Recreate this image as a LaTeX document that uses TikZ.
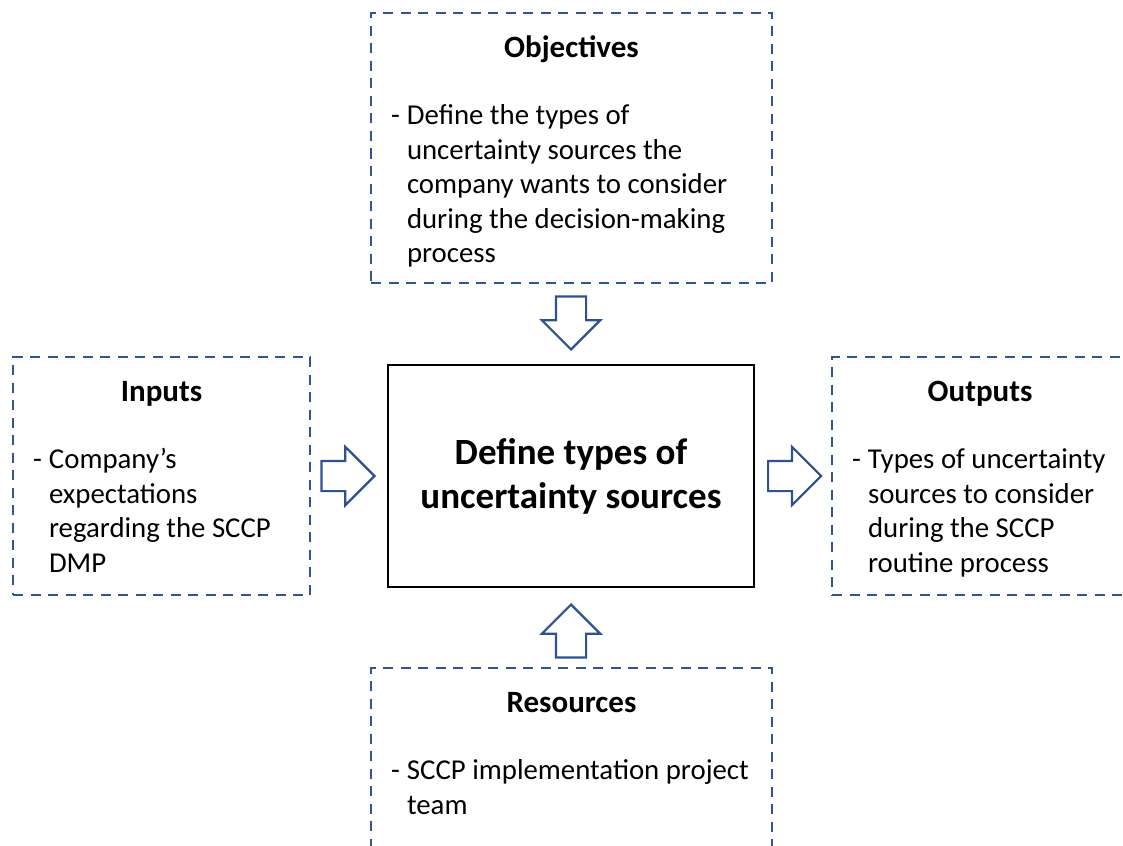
\documentclass[tikz,border=0pt]{standalone}
\usepackage{fontspec}
\setmainfont{Carlito}
\usetikzlibrary{shapes.arrows,positioning}
\definecolor{boxblue}{HTML}{2F5597}
\definecolor{arrowblue}{HTML}{2F528F}
\newcommand{\dashlist}[1]{\makebox[16pt][l]{-}\begin{tabular}[t]{@{}l@{}}#1\end{tabular}}

\begin{document}
\begin{tikzpicture}[x=1pt,y=-1pt,
  sidebox/.style={draw=boxblue, line width=2.4pt, dash pattern=on 10pt off 7.5pt, inner sep=0pt},
  mainbox/.style={draw=black, line width=2pt, minimum width=366pt, minimum height=222pt, align=center, font=\fontsize{37}{44}\selectfont\bfseries},
  boxtitle/.style={anchor=base, inner sep=0pt, font=\fontsize{31}{36}\selectfont\bfseries},
  boxtext/.style={anchor=base west, inner sep=0pt, font=\fontsize{28.8}{34.5}\selectfont},
  blockarrow/.style={single arrow, draw=arrowblue, line width=2.2pt, fill=white, inner xsep=0pt, inner ysep=14pt, minimum height=53pt, minimum width=56pt, single arrow head extend=14pt, single arrow head indent=0pt}]
\useasboundingbox (0,0) rectangle (1123,845);
\clip (0,0) rectangle (1123,845);

% main step
\node[mainbox] (define) at (571,476) {Define types of\\uncertainty sources};

% surrounding boxes
\node[sidebox, minimum width=401pt, minimum height=270pt] (objbox) at (571.5,148) {};
\node[sidebox, minimum width=297pt, minimum height=238pt] (inbox) at (161.5,476) {};
\node[sidebox, minimum width=296pt, minimum height=238pt] (outbox) at (980,476) {};
\node[sidebox, minimum width=401pt, minimum height=270pt] (resbox) at (571.5,803) {};

\node[boxtitle] (objtitle) at ([yshift=-46pt]objbox.north) {Objectives};
\node[boxtitle] (intitle) at ([yshift=-46pt]inbox.north) {Inputs};
\node[boxtitle] (outtitle) at ([yshift=-46pt]outbox.north) {Outputs};
\node[boxtitle] (restitle) at ([yshift=-46pt]resbox.north) {Resources};

\node[boxtext] (objtext) at ([xshift=21pt,yshift=-113pt]objbox.north west) {\dashlist{Define the types of\\uncertainty sources the\\company wants to consider\\during the decision-making\\process}};
\node[boxtext] (intext) at ([xshift=21pt,yshift=-113pt]inbox.north west) {\dashlist{Company’s\\expectations\\regarding the SCCP\\DMP}};
\node[boxtext] (outtext) at ([xshift=21pt,yshift=-113pt]outbox.north west) {\dashlist{Types of uncertainty\\sources to consider\\during the SCCP\\routine process}};
\node[boxtext] (restext) at ([xshift=21pt,yshift=-113pt]resbox.north west) {\dashlist{SCCP implementation project\\team}};

% block arrows
\node[blockarrow, rotate=-90, anchor=tip] (objarrow) at ([yshift=13pt]define.north) {};
\node[blockarrow, anchor=tip] (inarrow) at ([xshift=-11pt]define.west) {};
\node[blockarrow, anchor=tail] (outarrow) at ([xshift=12pt]define.east) {};
\node[blockarrow, rotate=90, anchor=tip] (resarrow) at ([yshift=-15pt]define.south) {};
\end{tikzpicture}
\end{document}
